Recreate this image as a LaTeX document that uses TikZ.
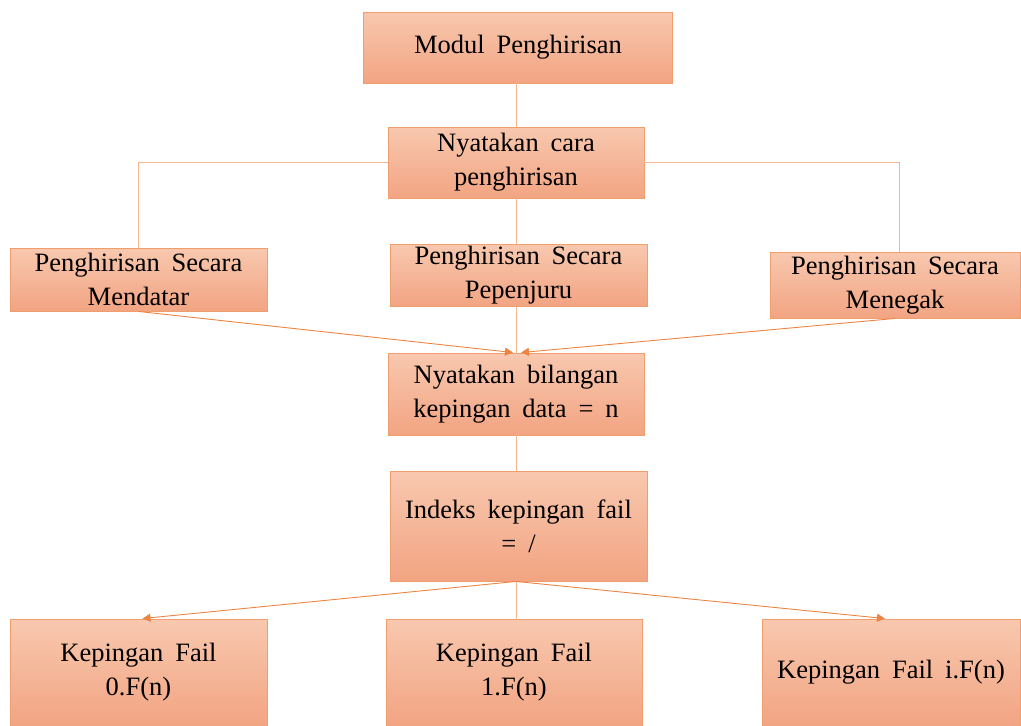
\documentclass[tikz,border=0pt]{standalone}
\usepackage{fontspec}
\setmainfont{Liberation Serif}
\usetikzlibrary{arrows.meta,calc}
\definecolor{boxtop}{HTML}{F8C8AF}
\definecolor{boxbot}{HTML}{F2A482}
\definecolor{boxedge}{HTML}{F19E6E}
\definecolor{linkpale}{HTML}{F5B78F}
\definecolor{linkdark}{HTML}{EE8443}
\newcommand{\boxfont}{\fontsize{26.5}{34}\selectfont\spaceskip=0.45em\relax}
\tikzset{
  stepbox/.style={rectangle, draw=boxedge, line width=0.9pt,
    top color=boxtop, bottom color=boxbot, inner sep=2pt, align=center,
    font=\boxfont},
  plainlink/.style={draw=linkpale, line width=1pt},
  arrowlink/.style={draw=linkdark, line width=0.9pt,
    -{Triangle[length=8pt,width=8pt]}}
}
\begin{document}
\begin{tikzpicture}[x=1pt, y=-1pt]
\useasboundingbox (0,0) rectangle (1021,726);
% boxes
\node[stepbox, minimum width=309pt, minimum height=71pt] (mod) at (518,47.5) {Modul Penghirisan};
\node[stepbox, minimum width=256pt, minimum height=71pt] (cara) at (516,162.5) {Nyatakan cara\\penghirisan};
\node[stepbox, minimum width=257pt, minimum height=63pt] (mendatar) at (138.5,279.5) {Penghirisan Secara\\Mendatar};
\node[stepbox, minimum width=257pt, minimum height=61pt] (pepenjuru) at (518.5,275.5) {Penghirisan Secara\\Pepenjuru};
\node[stepbox, minimum width=250pt, minimum height=66pt] (menegak) at (895,285) {Penghirisan Secara\\Menegak};
\node[stepbox, minimum width=256pt, minimum height=82pt] (bil) at (516,394) {Nyatakan bilangan\\kepingan data = n};
\node[stepbox, minimum width=257pt, minimum height=110pt] (indeks) at (518.5,526) {Indeks kepingan fail\\= /};
\node[stepbox, minimum width=257pt, minimum height=107pt] (kf0) at (138.5,672.5) {Kepingan Fail\\0.F(n)};
\node[stepbox, minimum width=256pt, minimum height=107pt] (kf1) at (514,672.5) {Kepingan Fail\\1.F(n)};
\node[stepbox, minimum width=258pt, minimum height=107pt] (kfi) at (891,672.5) {Kepingan Fail i.F(n)};
% connectors
\draw[plainlink] (mod.south -| cara.center) -- (cara.north);
\draw[plainlink] (cara.west) -| (mendatar.north);
\draw[plainlink] (cara.east) -| ($(menegak.north)+(4,0)$);
\draw[plainlink] (cara.south) -- (cara.south |- pepenjuru.north);
\draw[plainlink] (pepenjuru.south -| bil.center) -- (bil.north);
\draw[arrowlink] (mendatar.south) -- ($(bil.north)+(-3,0)$);
\draw[arrowlink] (menegak.south) -- ($(bil.north)+(5,0)$);
\draw[plainlink] (bil.south) -- (bil.south |- indeks.north);
\draw[plainlink] (indeks.south -| bil.center) -- (bil.center |- kf1.north);
\draw[arrowlink] (indeks.south -| bil.center) -- ($(kf0.north)+(4,0)$);
\draw[arrowlink] (indeks.south -| bil.center) -- ($(kfi.north)+(-6,0)$);
\end{tikzpicture}
\end{document}
